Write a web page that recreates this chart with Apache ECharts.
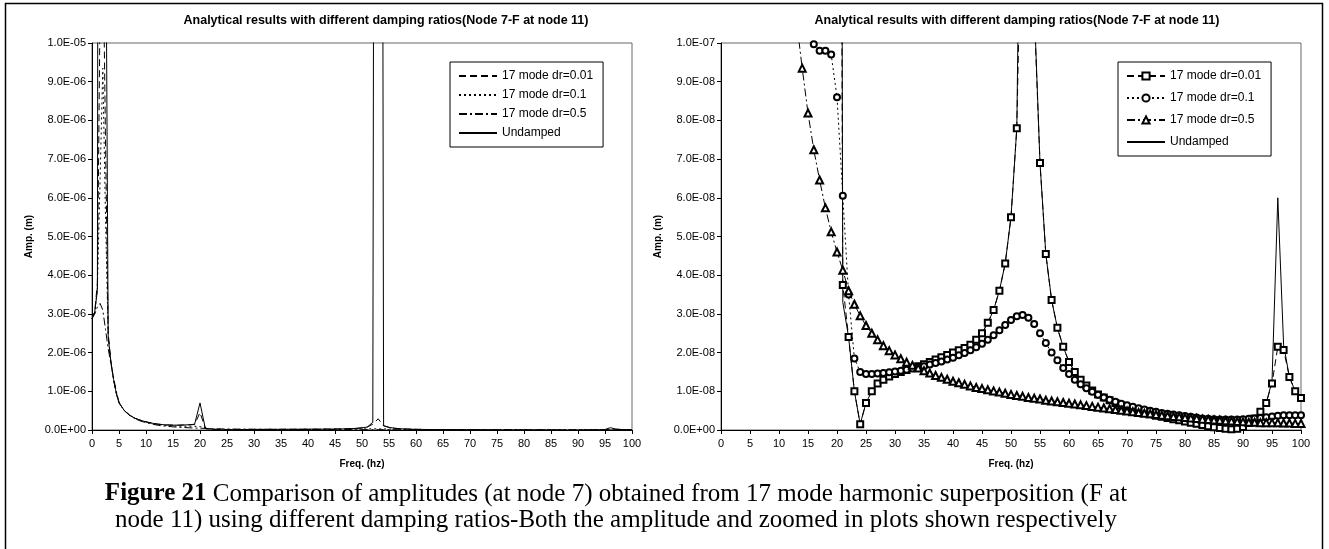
<!DOCTYPE html>
<html>
<head>
<meta charset="utf-8">
<script src="https://cdn.jsdelivr.net/npm/echarts@6/dist/echarts.min.js"></script>
<style>
html,body{margin:0;padding:0;background:#fff;}
#chart{width:1329px;height:549px;}
</style>
</head>
<body>
<div id="chart"></div>
<script>
// frequency samples (Hz)
var freq = [
    0,0.5,1,1.5,2,2.5,3,3.5,4,4.5,
    5,6,7,8,9,10,11,12,13,14,
    15,16,17,18,19,20,21,22,23,24,
    25,26,27,28,29,30,31,32,33,34,
    35,36,37,38,39,40,41,42,43,44,
    45,46,47,48,49,50,51,52,53,54,
    55,56,57,58,59,60,61,62,63,64,
    65,66,67,68,69,70,71,72,73,74,
    75,76,77,78,79,80,81,82,83,84,
    85,86,87,88,89,90,91,92,93,94,
    95,96,97,98,99,100
];

// amplitudes in units of 1E-08 m
var undamped = [
    288,305,360,6000,8000,1500,240,175,130,95,
    70,50,38,30,25,21,18,15.5,14,13,
    12.5,12.5,13,13.5,15,70,3.3,2.4,1.0,0.15,
    0.7,1.0,1.2,1.3,1.38,1.45,1.5,1.55,1.6,1.65,
    1.7,1.76,1.82,1.88,1.94,2.0,2.06,2.12,2.2,2.33,
    2.5,2.77,3.1,3.6,4.3,5.5,7.8,20,8000,11,
    6.9,4.55,3.36,2.64,2.15,1.76,1.5,1.3,1.15,1.02,
    0.92,0.84,0.77,0.7,0.64,0.58,0.53,0.49,0.45,0.41,
    0.37,0.34,0.31,0.28,0.25,0.22,0.19,0.16,0.13,0.1,
    0.07,0.05,0.03,0.02,0.03,0.08,0.18,0.3,0.47,0.7,
    1.25,6.0,2.2,1.37,1.0,0.83
];
var dr001 = [
    288,305,380,1100,1300,750,250,178,130,95,
    70,50,38,30,25,21,18,15.5,14,13,
    12.5,12.5,13,13.5,14,45,3.75,2.4,1.0,0.15,
    0.7,1.0,1.2,1.3,1.38,1.45,1.5,1.55,1.6,1.65,
    1.7,1.76,1.82,1.88,1.94,2.0,2.06,2.12,2.2,2.33,
    2.5,2.77,3.1,3.6,4.3,5.5,7.8,15,29,10.8,
    6.9,4.55,3.36,2.64,2.15,1.76,1.5,1.3,1.15,1.02,
    0.92,0.84,0.77,0.7,0.64,0.58,0.53,0.49,0.45,0.41,
    0.37,0.34,0.31,0.28,0.25,0.22,0.19,0.16,0.13,0.1,
    0.07,0.05,0.03,0.02,0.03,0.08,0.18,0.3,0.47,0.7,
    1.2,2.15,2.07,1.37,1.0,0.83
];
var dr01 = [
    288,300,370,650,935,550,245,175,130,95,
    70,50,38,30,25,21,18,15,13,11.5,
    10.6,9.97,9.8,9.8,9.7,8.6,6.05,3.5,1.85,1.5,
    1.45,1.45,1.46,1.47,1.49,1.51,1.53,1.56,1.59,1.62,
    1.65,1.69,1.73,1.77,1.82,1.87,1.93,1.99,2.06,2.14,
    2.23,2.33,2.45,2.58,2.71,2.84,2.94,2.97,2.9,2.74,
    2.5,2.25,2.0,1.8,1.6,1.45,1.3,1.18,1.08,0.99,
    0.91,0.84,0.78,0.73,0.68,0.64,0.6,0.56,0.53,0.5,
    0.47,0.44,0.42,0.4,0.38,0.36,0.34,0.32,0.3,0.29,
    0.28,0.27,0.27,0.27,0.27,0.28,0.29,0.3,0.31,0.33,
    0.35,0.37,0.38,0.38,0.38,0.38
];
var dr05 = [
    288,300,318,327,310,260,210,172,135,100,
    72,50,37,29,23,19,15.5,12.8,10.6,9.35,
    8.19,7.24,6.46,5.74,5.12,4.6,4.13,3.6,3.25,2.95,
    2.7,2.5,2.33,2.18,2.05,1.94,1.84,1.75,1.67,1.6,
    1.53,1.47,1.41,1.36,1.31,1.26,1.22,1.18,1.14,1.1,
    1.07,1.04,1.01,0.98,0.95,0.92,0.89,0.87,0.84,0.82,
    0.8,0.77,0.75,0.73,0.71,0.69,0.67,0.65,0.63,0.61,
    0.59,0.57,0.55,0.53,0.51,0.49,0.47,0.45,0.43,0.42,
    0.4,0.38,0.37,0.35,0.34,0.32,0.31,0.3,0.28,0.27,
    0.26,0.25,0.24,0.23,0.22,0.21,0.2,0.2,0.19,0.19,
    0.19,0.19,0.18,0.18,0.17,0.17
];
var seriesNames = ['17 mode dr=0.01', '17 mode dr=0.1', '17 mode dr=0.5', 'Undamped'];
var chartTitle = 'Analytical results with different damping ratios(Node 7-F at node 11)';

var SCALE = 1e-8;
var FONT = '"Liberation Sans", Arial, sans-serif';
var SERIF = '"Liberation Serif", "Times New Roman", serif';

function pairs(vals) {
    return freq.map(function (f, i) { return [f, vals[i] * SCALE]; });
}

function sci(v) {
    if (v === 0) return '0.0E+00';
    var e = Math.floor(Math.log10(Math.abs(v)) + 1e-9);
    var s = (v / Math.pow(10, e)).toFixed(1);
    if (s === '10.0') { s = '1.0'; e += 1; }
    var a = Math.abs(e);
    return s + 'E' + (e < 0 ? '-' : '+') + (a < 10 ? '0' + a : a);
}

var lines = [
    {data: dr001, dash: [7, 4], symbol: 'emptyRect', size: 6},
    {data: dr01, dash: [2, 3], symbol: 'emptyCircle', size: 6},
    {data: dr05, dash: [8, 3, 2, 3], symbol: 'emptyTriangle', size: 7},
    {data: undamped, dash: 'solid', symbol: 'none', size: 0}
];

var series = [];
lines.forEach(function (l, i) {
    // left: full amplitude, no markers
    series.push({
        name: seriesNames[i], type: 'line', xAxisIndex: 0, yAxisIndex: 0,
        data: pairs(l.data), symbol: 'none', clip: true,
        lineStyle: {color: '#000', width: 1, type: l.dash},
        itemStyle: {color: '#000'}
    });
    // right: zoomed in, with markers
    series.push({
        name: 'R:' + seriesNames[i], type: 'line', xAxisIndex: 1, yAxisIndex: 1,
        data: pairs(l.data), symbol: l.symbol, symbolSize: l.size, clip: true,
        lineStyle: {color: '#000', width: 1, type: l.dash},
        itemStyle: {color: '#000', borderColor: '#000', borderWidth: 1}
    });
});

function xAxis(idx) {
    return {
        type: 'value', gridIndex: idx, min: 0, max: 100, interval: 5,
        name: 'Freq. (hz)', nameLocation: 'middle', nameGap: 29,
        nameTextStyle: {fontFamily: FONT, fontSize: 10, fontWeight: 'bold', color: '#000'},
        axisLine: {lineStyle: {color: '#000', width: 1}},
        axisTick: {length: 4, lineStyle: {color: '#000'}},
        axisLabel: {fontFamily: FONT, fontSize: 11, color: '#000', margin: 8},
        splitLine: {show: false}
    };
}
function yAxis(idx, max) {
    return {
        type: 'value', gridIndex: idx, min: 0, max: max, interval: max / 10,
        name: 'Amp. (m)', nameLocation: 'middle', nameGap: 58, nameRotate: 90,
        nameTextStyle: {fontFamily: FONT, fontSize: 10, fontWeight: 'bold', color: '#000'},
        axisLine: {show: true, lineStyle: {color: '#000', width: 1}},
        axisTick: {show: true, length: 4, lineStyle: {color: '#000'}},
        axisLabel: {fontFamily: FONT, fontSize: 11, color: '#000', margin: 6, formatter: sci},
        splitLine: {show: false}
    };
}
function legend(x, items, fmt) {
    return {
        orient: 'vertical', left: x, top: 62,
        data: items, formatter: fmt,
        backgroundColor: '#fff', borderColor: '#000', borderWidth: 1,
        padding: [8, 10, 8, 8], itemGap: 7, itemWidth: 38, itemHeight: 12,
        textStyle: {fontFamily: FONT, fontSize: 12, color: '#000'},
        selectedMode: false
    };
}

var leftLegend = legend(450, seriesNames, function (n) { return n; });
leftLegend.itemStyle = {opacity: 0};
var rightLegend = legend(1118, seriesNames.map(function (n) {
    return n === 'Undamped' ? {name: 'R:' + n, itemStyle: {opacity: 0}} : {name: 'R:' + n};
}), function (n) { return n.slice(2); });
rightLegend.itemHeight = 9;
rightLegend.itemGap = 10;

var chart = echarts.init(document.getElementById('chart'), null, {renderer: 'canvas'});
chart.setOption({
    animation: false,
    backgroundColor: '#fff',
    title: [
        {text: chartTitle, left: 381, top: 9, textAlign: 'center',
         textStyle: {fontFamily: FONT, fontSize: 12.5, fontWeight: 'bold', color: '#000'}},
        {text: chartTitle, left: 1012, top: 9, textAlign: 'center',
         textStyle: {fontFamily: FONT, fontSize: 12.5, fontWeight: 'bold', color: '#000'}}
    ],
    grid: [
        {left: 92, top: 43, width: 540, height: 387, show: true, borderColor: '#666', borderWidth: 1},
        {left: 721, top: 43, width: 580, height: 387, show: true, borderColor: '#666', borderWidth: 1}
    ],
    xAxis: [xAxis(0), xAxis(1)],
    yAxis: [yAxis(0, 1e-5), yAxis(1, 1e-7)],
    legend: [leftLegend, rightLegend],
    series: series,
    graphic: [
        {type: 'rect', silent: true, shape: {x: 5.5, y: 3.5, width: 1317, height: 600},
         style: {fill: 'none', stroke: '#000', lineWidth: 1.5}},
        {type: 'text', silent: true, x: 616, y: 494,
         style: {text: '{b|Figure 21} Comparison of amplitudes (at node 7) obtained from 17 mode harmonic superposition (F at',
                 align: 'center', verticalAlign: 'middle',
                 font: '25px ' + SERIF, fill: '#000',
                 rich: {b: {font: 'bold 25px ' + SERIF, fill: '#000'}}}},
        {type: 'text', silent: true, x: 616, y: 520,
         style: {text: 'node 11) using different damping ratios-Both the amplitude and zoomed in plots shown respectively',
                 align: 'center', verticalAlign: 'middle',
                 font: '25px ' + SERIF, fill: '#000'}}
    ]
});
</script>
</body>
</html>
